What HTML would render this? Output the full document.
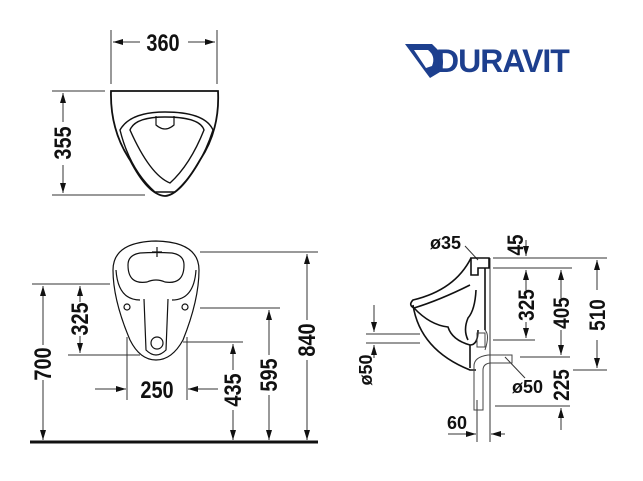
<!DOCTYPE html>
<html><head><meta charset="utf-8"><style>
html,body{margin:0;padding:0;background:#fff;width:643px;height:481px;overflow:hidden}
svg text{font-family:"Liberation Sans",sans-serif;font-weight:bold;font-size:21px;fill:#111}
</style></head><body>
<svg width="643" height="481" viewBox="0 0 643 481" xmlns="http://www.w3.org/2000/svg">
<defs>
<marker id="a" viewBox="0 0 10 6" refX="10" refY="3" markerWidth="10" markerHeight="6" orient="auto-start-reverse" markerUnits="userSpaceOnUse"><path d="M0,0L10,3L0,6z" fill="#111"/></marker>
</defs>
<g stroke="#333" stroke-width="1" fill="none">
<line x1="111" y1="30" x2="111" y2="84"/><line x1="217" y1="30" x2="217" y2="84"/>
<line x1="113" y1="42" x2="140" y2="42" marker-start="url(#a)"/>
<line x1="188" y1="42" x2="215" y2="42" marker-end="url(#a)"/>
<line x1="52" y1="91" x2="105" y2="91"/><line x1="52" y1="195" x2="145" y2="195"/>
<line x1="63" y1="93" x2="63" y2="122" marker-start="url(#a)"/>
<line x1="63" y1="165" x2="63" y2="193" marker-end="url(#a)"/>
</g>
<g stroke="#111" stroke-width="1.8" fill="none">
<path d="M111,91 L218,91 Q220,130 200,160 Q180,195 165,196 Q148,195 130,160 Q110,130 111,91 Z"/>
<path d="M120,130 Q130,112 165,112 Q205,112 213,130 Q200,170 175,192 L155,192 Q130,170 120,130 Z" stroke-width="1.4"/>
<path d="M130,130 Q135,117 165,117 Q200,117 204,130 Q190,165 170,183 Q150,175 130,130 Z" stroke-width="1.4"/>
<path d="M156,116 L156,125 Q165,133 174,125 L174,116" stroke-width="1.2"/>
</g>
<text transform="translate(163,51) scale(0.95,1.15)" text-anchor="middle">360</text>
<text transform="translate(71,143) rotate(-90) scale(0.95,1.15)" text-anchor="middle">355</text>

<line x1="30" y1="442" x2="318" y2="442" stroke="#111" stroke-width="3"/>
<g stroke="#333" stroke-width="1" fill="none">
<line x1="32" y1="284" x2="110" y2="284"/>
<line x1="43" y1="286" x2="43" y2="345" marker-start="url(#a)"/>
<line x1="43" y1="380" x2="43" y2="440" marker-end="url(#a)"/>
<line x1="68" y1="355" x2="140" y2="355"/>
<line x1="80" y1="286" x2="80" y2="302" marker-start="url(#a)"/>
<line x1="80" y1="336" x2="80" y2="353" marker-end="url(#a)"/>
<line x1="127" y1="337" x2="127" y2="400"/><line x1="187" y1="337" x2="187" y2="400"/>
<line x1="95" y1="389" x2="126" y2="389" marker-end="url(#a)"/>
<line x1="218" y1="389" x2="188" y2="389" marker-end="url(#a)"/>
<line x1="183" y1="342" x2="243" y2="342"/>
<line x1="233" y1="344" x2="233" y2="370" marker-start="url(#a)"/>
<line x1="233" y1="410" x2="233" y2="440" marker-end="url(#a)"/>
<line x1="200" y1="308" x2="280" y2="308"/>
<line x1="269" y1="310" x2="269" y2="355" marker-start="url(#a)"/>
<line x1="269" y1="395" x2="269" y2="440" marker-end="url(#a)"/>
<line x1="200" y1="252" x2="318" y2="252"/>
<line x1="307" y1="254" x2="307" y2="320" marker-start="url(#a)"/>
<line x1="307" y1="360" x2="307" y2="440" marker-end="url(#a)"/>
</g>
<g stroke="#111" stroke-width="1.2" fill="none">
<path d="M156,360 Q140,360 130,340 Q113,300 113,270 Q113,242 156,241 Q199,242 199,270 Q199,300 183,340 Q172,360 156,360 Z"/>
<path d="M116,270 Q118,300 140,300 M196,270 Q194,300 172,300"/>
<path d="M128,265 Q128,255 140,253 Q156,252 172,253 Q184,255 184,265 Q184,285 165,282 Q156,278 147,282 Q128,285 128,265 Z"/>
<path d="M144,299 L146,350 Q156,360 166,350 L168,299"/>
<circle cx="157" cy="343" r="6"/>
<circle cx="127" cy="307" r="3"/><circle cx="185" cy="307" r="3"/>
<path d="M157,247v10M152,252h10"/>
</g>
<text transform="translate(51,364) rotate(-90) scale(0.95,1.15)" text-anchor="middle">700</text>
<text transform="translate(88,319) rotate(-90) scale(0.95,1.15)" text-anchor="middle">325</text>
<text transform="translate(157,398) scale(0.95,1.15)" text-anchor="middle">250</text>
<text transform="translate(241,390) rotate(-90) scale(0.95,1.15)" text-anchor="middle">435</text>
<text transform="translate(277,375) rotate(-90) scale(0.95,1.15)" text-anchor="middle">595</text>
<text transform="translate(315,340) rotate(-90) scale(0.95,1.15)" text-anchor="middle">840</text>

<g stroke="#333" stroke-width="1" fill="none">
<line x1="490" y1="258" x2="490" y2="442"/>
<line x1="477" y1="400" x2="477" y2="442"/>
<line x1="493" y1="258" x2="607" y2="258"/>
<line x1="493" y1="268" x2="572" y2="268"/>
<line x1="493" y1="340" x2="535" y2="340"/>
<line x1="520" y1="357" x2="570" y2="357"/>
<line x1="573" y1="370" x2="607" y2="370"/>
<line x1="495" y1="406" x2="570" y2="406"/>
<line x1="526" y1="240" x2="526" y2="256" marker-end="url(#a)"/>
<line x1="526" y1="270" x2="526" y2="290" marker-start="url(#a)"/>
<line x1="526" y1="322" x2="526" y2="338" marker-end="url(#a)"/>
<line x1="561" y1="270" x2="561" y2="298" marker-start="url(#a)"/>
<line x1="561" y1="330" x2="561" y2="355" marker-end="url(#a)"/>
<line x1="561" y1="430" x2="561" y2="408" marker-end="url(#a)"/>
<line x1="597" y1="260" x2="597" y2="290" marker-start="url(#a)"/>
<line x1="597" y1="340" x2="597" y2="368" marker-end="url(#a)"/>
<line x1="366" y1="334" x2="420" y2="334"/><line x1="366" y1="343" x2="420" y2="343"/>
<line x1="374" y1="305" x2="374" y2="332" marker-end="url(#a)"/>
<line x1="374" y1="358" x2="374" y2="345" marker-end="url(#a)"/>
<line x1="448" y1="434" x2="476" y2="434" marker-end="url(#a)"/>
<line x1="505" y1="434" x2="491" y2="434" marker-end="url(#a)"/>
<line x1="465" y1="246" x2="478" y2="260"/>
<line x1="505" y1="357" x2="525" y2="378"/>
</g>
<g stroke="#111" stroke-width="1.6" fill="none">
<path d="M471,258 L489,258 L489,268 L478,268 L478,275 L471,275 Z" />
<path d="M471,258 Q455,290 413,300 Q408,305 414,308 Q440,300 470,285"/>
<path d="M413,305 Q420,350 470,370 L476,370"/>
<path d="M414,308 Q430,325 448,327 Q452,340 470,345 Q478,345 478,330"/>
<path d="M476,290 Q475,310 468,318 Q463,330 468,340"/>
<path d="M485,268 L485,330"/>
<path d="M470,345 L470,368"/>
</g>
<g stroke="#444" stroke-width="1" fill="none">
<path d="M474,366 L474,410 L483,410 L483,370 Q483,364 490,363 L512,363 L512,355 L488,355 Q474,357 474,366 Z"/>
<rect x="477" y="333" width="8" height="14"/>
<path d="M485,330 Q490,335 485,350"/>
</g>
<text transform="translate(430,249)" style="font-size:18px">ø35</text>
<text transform="translate(523,245) rotate(-90) scale(0.95,1.1)" text-anchor="middle" style="font-size:20px">45</text>
<text transform="translate(534,305) rotate(-90) scale(0.95,1.1)" text-anchor="middle" style="font-size:20px">325</text>
<text transform="translate(569,313) rotate(-90) scale(0.95,1.1)" text-anchor="middle" style="font-size:20px">405</text>
<text transform="translate(605,315) rotate(-90) scale(0.95,1.1)" text-anchor="middle" style="font-size:20px">510</text>
<text transform="translate(569,385) rotate(-90) scale(0.95,1.1)" text-anchor="middle" style="font-size:20px">225</text>
<text transform="translate(512,393)" style="font-size:18px">ø50</text>
<text transform="translate(372,370) rotate(-90)" text-anchor="middle" style="font-size:18px">ø50</text>
<text transform="translate(457,429)" text-anchor="middle" style="font-size:18px">60</text>

<path d="M405,44 L432,44 L440,52 Q446,62 440,72 L430,78 L424,70 Z" fill="#1d3f8e"/>
<path d="M414,50 L428,50 Q436,56 432,66 L426,68 Z" fill="#fff"/>
<text x="436" y="72" style="font-size:32px;fill:#1d3f8e;font-weight:bold;letter-spacing:-1px">DURAVIT</text>
</svg>
</body></html>
